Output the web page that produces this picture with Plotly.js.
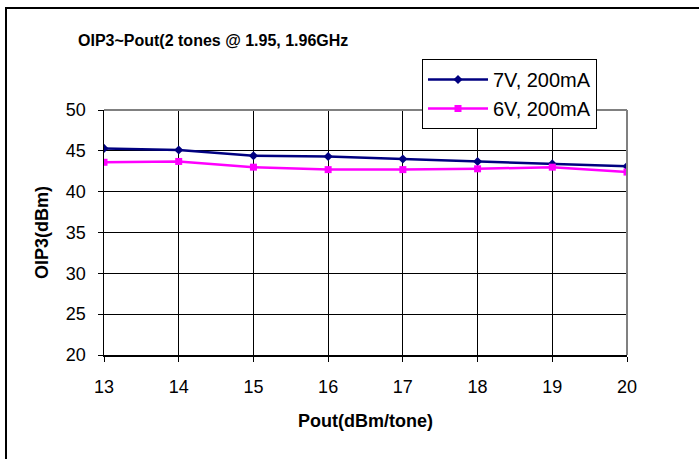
<!DOCTYPE html>
<html>
<head>
<meta charset="utf-8">
<script src="https://cdn.plot.ly/plotly-3.0.1.min.js"></script>
<style>
  html, body { margin: 0; padding: 0; background: #fff; }
  #chart { width: 699px; height: 459px; }
</style>
</head>
<body>
<div id="chart"></div>
<script>
// Pout (dBm/tone)
const pout = [13, 14, 15, 16, 17, 18, 19, 20];
// OIP3 (dBm) for each bias point
const oip3_7V = [45.3, 45.1, 44.4, 44.3, 44.0, 43.7, 43.4, 43.1];
const oip3_6V = [43.6, 43.7, 43.0, 42.7, 42.7, 42.8, 43.0, 42.4];
const seriesNames = ['7V, 200mA', '6V, 200mA'];

const font = 'Arial, "Liberation Sans", sans-serif';

const data = [
    {
        x: pout,
        y: oip3_7V,
        type: 'scatter',
        mode: 'lines+markers',
        name: seriesNames[0],
        line: {color: '#000080', width: 2.5},
        marker: {symbol: 'diamond', size: 7, color: '#000080'}
    },
    {
        x: pout,
        y: oip3_6V,
        type: 'scatter',
        mode: 'lines+markers',
        name: seriesNames[1],
        line: {color: '#FF00FF', width: 2.5},
        marker: {symbol: 'square', size: 7, color: '#FF00FF'}
    }
];

const layout = {
    width: 699,
    height: 459,
    margin: {l: 104, r: 72, t: 110, b: 104},
    paper_bgcolor: '#ffffff',
    plot_bgcolor: '#ffffff',
    font: {family: font, size: 18, color: '#000'},
    title: {
        text: '<b>OIP3~Pout(2 tones @ 1.95, 1.96GHz</b>',
        font: {family: font, size: 16, color: '#000'},
        x: 78 / 699,
        xanchor: 'left',
        y: 1 - 40 / 459,
        yanchor: 'middle'
    },
    xaxis: {
        range: [13, 20],
        dtick: 1,
        tick0: 13,
        showgrid: true,
        gridcolor: '#000',
        gridwidth: 1,
        zeroline: false,
        showline: true,
        linecolor: '#000',
        linewidth: 1.5,
        ticks: 'outside',
        ticklen: 5,
        tickcolor: '#000',
        ticklabelstandoff: 10,
        tickfont: {size: 18},
        title: {text: '<b>Pout(dBm/tone)</b>', font: {size: 18}, standoff: 18}
    },
    yaxis: {
        range: [20, 50],
        dtick: 5,
        showgrid: true,
        gridcolor: '#000',
        gridwidth: 1,
        zeroline: false,
        showline: true,
        linecolor: '#000',
        linewidth: 1.5,
        ticks: 'outside',
        ticklen: 5,
        tickcolor: '#000',
        ticklabelstandoff: 8,
        tickfont: {size: 18},
        title: {text: '<b>OIP3(dBm)</b>', font: {size: 18}, standoff: 12}
    },
    legend: {
        x: (422 - 104) / 523,
        y: (355 - 59) / 245,
        xanchor: 'left',
        yanchor: 'top',
        bgcolor: '#ffffff',
        bordercolor: '#000',
        borderwidth: 1,
        font: {size: 20},
        itemwidth: 60,
        tracegroupgap: 0
    },
    shapes: [
        // gray plot-area frame on top and right
        {type: 'line', xref: 'paper', yref: 'paper', x0: 0, x1: 1, y0: 1, y1: 1,
         line: {color: '#808080', width: 2}},
        {type: 'line', xref: 'paper', yref: 'paper', x0: 1, x1: 1, y0: 0, y1: 1,
         line: {color: '#808080', width: 2}},
        // outer chart border (left and top edges visible)
        {type: 'rect', xref: 'paper', yref: 'paper',
         x0: (6 - 104) / 523, x1: 1.3, y0: -0.6, y1: (355 - 8) / 245,
         line: {color: '#000', width: 2}, layer: 'below'}
    ],
    showlegend: true
};

Plotly.newPlot('chart', data, layout, {displayModeBar: false, staticPlot: true});
</script>
</body>
</html>
